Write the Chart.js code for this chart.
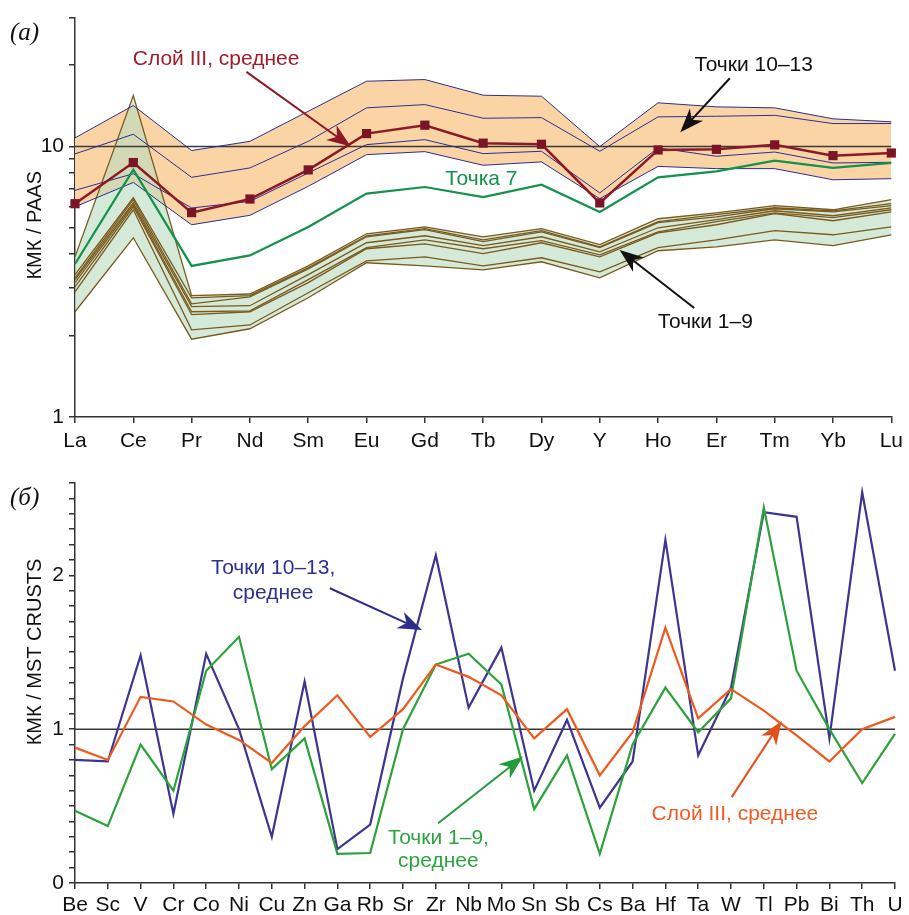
<!DOCTYPE html>
<html>
<head>
<meta charset="utf-8">
<title>КМК</title>
<script src="https://cdn.jsdelivr.net/npm/chart.js@4.4.1/dist/chart.umd.min.js"></script>
<style>
  body { margin: 0; background: #fff; }
  canvas { display: block; }
</style>
</head>
<body>
<canvas id="reeChart" width="909" height="458"></canvas>
<canvas id="traceChart" width="909" height="457"></canvas>
<script>
// ---------- Panel (а): REE / PAAS ----------
const reeElements = ['La', 'Ce', 'Pr', 'Nd', 'Sm', 'Eu', 'Gd', 'Tb', 'Dy', 'Y', 'Ho', 'Er', 'Tm', 'Yb', 'Lu'];
const layer3Mean = [6.15, 8.73, 5.70, 6.40, 8.20, 11.17, 12.0, 10.3, 10.2, 6.19, 9.72, 9.77, 10.15, 9.26, 9.47];
const point7 = [3.68, 8.22, 3.62, 3.96, 5.04, 6.70, 7.09, 6.51, 7.23, 5.73, 7.70, 8.10, 8.87, 8.34, 8.70];
// points 10-13 (orange band)
const pt10 = [10.77, 14.19, 9.67, 10.46, 13.51, 17.45, 17.7, 15.49, 15.36, 10.0, 14.52, 14.03, 13.91, 12.67, 12.35];
const pt11 = [9.40, 11.11, 7.70, 8.34, 10.46, 13.91, 14.3, 12.73, 12.8, 9.61, 12.88, 12.95, 13.05, 12.17, 12.17];
const pt12 = [6.89, 7.94, 5.93, 6.27, 7.99, 10.17, 10.61, 9.42, 9.61, 6.74, 9.89, 9.21, 9.55, 8.70, 8.75];
const pt13 = [5.99, 7.37, 5.14, 5.57, 7.13, 9.34, 9.58, 8.53, 8.78, 6.42, 8.45, 8.29, 8.29, 7.54, 7.61];
// points 1-9 without 7 (green band)
const pt1 = [3.91, 15.45, 2.81, 2.85, 3.62, 4.76, 5.05, 4.64, 4.97, 4.34, 5.41, 5.69, 6.05, 5.84, 6.37];
const pt2 = [3.36, 6.47, 2.76, 2.81, 3.56, 4.68, 4.97, 4.52, 4.89, 4.26, 5.28, 5.60, 5.94, 5.79, 6.15];
const pt3 = [3.27, 6.37, 2.62, 2.78, 3.53, 4.64, 4.93, 4.45, 4.84, 4.23, 5.23, 5.50, 5.89, 5.74, 6.05];
const pt4 = [3.22, 6.20, 2.56, 2.58, 3.36, 4.41, 4.68, 4.30, 4.64, 4.08, 5.01, 5.37, 5.79, 5.55, 5.94];
const pt5 = [3.14, 6.10, 2.45, 2.47, 3.22, 4.23, 4.52, 4.19, 4.49, 3.98, 4.84, 5.28, 5.69, 5.46, 5.84];
const pt6 = [3.03, 5.99, 2.39, 2.45, 3.14, 4.19, 4.37, 4.02, 4.41, 3.91, 4.80, 5.14, 5.65, 5.32, 5.74];
const pt8 = [2.90, 5.84, 2.10, 2.19, 2.88, 3.78, 3.91, 3.62, 3.88, 3.44, 4.23, 4.52, 4.89, 4.72, 5.05];
const pt9 = [2.45, 4.60, 1.94, 2.12, 2.76, 3.72, 3.62, 3.50, 3.75, 3.27, 4.12, 4.26, 4.52, 4.30, 4.72];
const reeTickValues = [1, 2, 3, 4, 5, 6, 7, 8, 9, 10, 20, 30];
const reeTickLabels = [1, 10];

// ---------- Panel (б): trace elements / MST crusts ----------
const traceElements = ['Be', 'Sc', 'V', 'Cr', 'Co', 'Ni', 'Cu', 'Zn', 'Ga', 'Rb', 'Sr', 'Zr', 'Nb', 'Mo', 'Sn', 'Sb', 'Cs', 'Ba', 'Hf', 'Ta', 'W', 'Tl', 'Pb', 'Bi', 'Th', 'U'];
const trace10to13 = [0.80, 0.79, 1.48, 0.45, 1.49, 1.00, 0.30, 1.31, 0.22, 0.38, 1.33, 2.13, 1.14, 1.53, 0.60, 1.06, 0.49, 0.79, 2.23, 0.83, 1.27, 2.41, 2.38, 0.94, 2.54, 1.38];
const trace1to9 = [0.47, 0.37, 0.90, 0.60, 1.38, 1.60, 0.74, 0.94, 0.19, 0.195, 1.00, 1.42, 1.49, 1.29, 0.48, 0.83, 0.19, 0.90, 1.27, 0.98, 1.20, 2.44, 1.38, 1.00, 0.65, 0.97];
const traceLayer3 = [0.88, 0.80, 1.21, 1.18, 1.03, 0.93, 0.78, 1.02, 1.22, 0.95, 1.13, 1.42, 1.34, 1.22, 0.94, 1.13, 0.70, 0.98, 1.66, 1.07, 1.26, 1.12, 0.96, 0.79, 1.00, 1.08];
const traceTickLabels = [0, 1, 2];

const FONT = '"Liberation Sans", Arial, sans-serif';
Chart.defaults.font.family = FONT;
Chart.defaults.color = '#111';

// draws an arrow with a notched, filled head
function drawArrow(ctx, x1, y1, x2, y2, color) {
    const ang = Math.atan2(y2 - y1, x2 - x1);
    const len = 24, half = 9;
    const cos = Math.cos(ang), sin = Math.sin(ang);
    const bx = x2 - len * cos, by = y2 - len * sin;
    ctx.save();
    ctx.strokeStyle = color;
    ctx.fillStyle = color;
    ctx.lineWidth = 2;
    ctx.beginPath();
    ctx.moveTo(x1, y1);
    ctx.lineTo(x2 - 14 * cos, y2 - 14 * sin);
    ctx.stroke();
    ctx.beginPath();
    ctx.moveTo(x2, y2);
    ctx.lineTo(bx - half * sin, by + half * cos);
    ctx.lineTo(x2 - 17 * cos, y2 - 17 * sin);
    ctx.lineTo(bx + half * sin, by - half * cos);
    ctx.closePath();
    ctx.fill();
    ctx.restore();
}

// notes plugin: panel letter, rotated y title, text labels and arrows (in data units)
function notesPlugin(cfg) {
    return {
        id: 'notes',
        afterDraw(chart) {
            const ctx = chart.ctx;
            const xs = chart.scales.x, ys = chart.scales.y;
            const area = chart.chartArea;
            ctx.save();
            ctx.fillStyle = '#111';
            ctx.font = 'italic 25px "Liberation Serif", serif';
            ctx.textAlign = 'left';
            ctx.textBaseline = 'alphabetic';
            ctx.fillText(cfg.panel, 10, area.top + 22);

            ctx.save();
            ctx.translate(35, area.top + area.height * cfg.titleFrac);
            ctx.rotate(-Math.PI / 2);
            ctx.textAlign = 'center';
            ctx.textBaseline = 'middle';
            ctx.font = '20px ' + FONT;
            ctx.fillText(cfg.title, 0, 0);
            ctx.restore();

            ctx.font = '21px ' + FONT;
            ctx.textAlign = 'center';
            ctx.textBaseline = 'alphabetic';
            cfg.texts.forEach(t => {
                ctx.fillStyle = t.color;
                ctx.fillText(t.text, xs.getPixelForValue(t.x), ys.getPixelForValue(t.y));
            });
            cfg.arrows.forEach(a => {
                drawArrow(ctx,
                    xs.getPixelForValue(a.from[0]), ys.getPixelForValue(a.from[1]),
                    xs.getPixelForValue(a.to[0]), ys.getPixelForValue(a.to[1]), a.color);
            });
            ctx.restore();
        }
    };
}

function lineSet(data, color, width, order) {
    return { data, borderColor: color, borderWidth: width, pointRadius: 0, tension: 0, fill: false, order };
}

document.addEventListener('DOMContentLoaded', () => {

    // --- Panel (а) ---
    const allPts19 = [pt1, pt2, pt3, pt4, pt5, pt6, pt8, pt9];
    const allPts1013 = [pt10, pt11, pt12, pt13];
    const green = (fn) => reeElements.map((_, i) => fn(...allPts19.map(s => s[i])));
    const orange = (fn) => reeElements.map((_, i) => fn(...allPts1013.map(s => s[i])));
    const BROWN = '#7a5a1c', NAVY = '#2b2f8f';

    const reeCtx = document.getElementById('reeChart').getContext('2d');
    new Chart(reeCtx, {
        type: 'line',
        data: {
            labels: reeElements,
            datasets: [
                { data: layer3Mean, borderColor: '#8c1a26', borderWidth: 2.5, tension: 0,
                  pointStyle: 'rect', pointRadius: 6.5, pointBackgroundColor: '#7b1424',
                  pointBorderColor: '#7b1424', pointBorderWidth: 0, clip: false, order: 0 },
                lineSet(point7, '#12924a', 2.2, 1),
                ...allPts1013.map(s => lineSet(s, NAVY, 1, 2)),
                ...allPts19.map(s => lineSet(s, BROWN, 1.3, 3)),
                lineSet(reeElements.map(() => 10), '#3a3a3a', 1.5, 4),
                { data: green(Math.max), borderWidth: 0, pointRadius: 0, tension: 0, fill: false, order: 5 },
                { data: green(Math.min), borderWidth: 0, pointRadius: 0, tension: 0, order: 5,
                  fill: '-1', backgroundColor: 'rgba(185, 218, 192, 0.6)' },
                { data: orange(Math.max), borderWidth: 0, pointRadius: 0, tension: 0, fill: false, order: 6 },
                { data: orange(Math.min), borderWidth: 0, pointRadius: 0, tension: 0, order: 6,
                  fill: '-1', backgroundColor: '#fad4a5' }
            ]
        },
        options: {
            responsive: false,
            animation: false,
            layout: { padding: { top: 17, right: 14, left: 0, bottom: 0 } },
            plugins: { legend: { display: false }, tooltip: { enabled: false } },
            scales: {
                x: {
                    offset: false,
                    grid: { drawOnChartArea: false, tickLength: 6, color: '#333', lineWidth: 1.5 },
                    border: { color: '#333', width: 1.5 },
                    ticks: { font: { size: 21 }, color: '#111', maxRotation: 0, autoSkip: false, padding: 6 },
                    afterFit: s => { s.height = 41; }
                },
                y: {
                    type: 'logarithmic',
                    min: 1,
                    max: 30,
                    grid: { drawOnChartArea: false, tickLength: 6, color: '#333', lineWidth: 1.5 },
                    border: { color: '#333', width: 1.5 },
                    afterBuildTicks: s => { s.ticks = reeTickValues.map(v => ({ value: v })); },
                    ticks: {
                        font: { size: 21 }, color: '#111', autoSkip: false, padding: 5,
                        callback: v => reeTickLabels.includes(v) ? String(v) : ''
                    },
                    afterFit: s => { s.width = 75; }
                }
            }
        },
        plugins: [notesPlugin({
            panel: '(а)',
            title: 'КМК / PAAS',
            titleFrac: 0.52,
            texts: [
                { text: 'Слой III, среднее', x: 2.42, y: 20.1, color: '#a11d2b' },
                { text: 'Точки 10–13', x: 11.64, y: 18.96, color: '#111' },
                { text: 'Точка 7', x: 6.97, y: 7.23, color: '#14924a' },
                { text: 'Точки 1–9', x: 10.81, y: 2.14, color: '#111' }
            ],
            arrows: [
                { from: [2.94, 18.9], to: [4.73, 10.0], color: '#8c1a26' },
                { from: [11.23, 17.9], to: [10.38, 11.3], color: '#111' },
                { from: [10.62, 2.53], to: [9.34, 4.15], color: '#111' }
            ]
        })]
    });

    // --- Panel (б) ---
    const traceCtx = document.getElementById('traceChart').getContext('2d');
    new Chart(traceCtx, {
        type: 'line',
        data: {
            labels: traceElements,
            datasets: [
                lineSet(traceLayer3, '#ee5a1e', 2.2, 0),
                lineSet(trace1to9, '#2ba23a', 2.2, 1),
                lineSet(trace10to13, '#3d3590', 2.2, 2),
                lineSet(traceElements.map(() => 1), '#3a3a3a', 1.5, 3)
            ]
        },
        options: {
            responsive: false,
            animation: false,
            layout: { padding: { top: 25, right: 14, left: 0, bottom: 0 } },
            plugins: { legend: { display: false }, tooltip: { enabled: false } },
            scales: {
                x: {
                    offset: false,
                    grid: { drawOnChartArea: false, tickLength: 6, color: '#333', lineWidth: 1.5 },
                    border: { color: '#333', width: 1.5 },
                    ticks: { font: { size: 21 }, color: '#111', maxRotation: 0, autoSkip: false, padding: 4 },
                    afterFit: s => { s.height = 32; }
                },
                y: {
                    min: 0,
                    max: 2.6,
                    grid: { drawOnChartArea: false, tickLength: 6, color: '#333', lineWidth: 1.5 },
                    border: { color: '#333', width: 1.5 },
                    ticks: {
                        stepSize: 0.1, font: { size: 21 }, color: '#111', autoSkip: false, padding: 5,
                        callback: v => {
                            const r = Math.round(v);
                            return Math.abs(v - r) < 1e-6 && traceTickLabels.includes(r) ? String(r) : '';
                        }
                    },
                    afterFit: s => { s.width = 75; }
                }
            }
        },
        plugins: [notesPlugin({
            panel: '(б)',
            title: 'КМК / MST CRUSTS',
            titleFrac: 0.4225,
            texts: [
                { text: 'Точки 10–13,', x: 6.04, y: 2.006, color: '#2e3192' },
                { text: 'среднее', x: 6.04, y: 1.845, color: '#2e3192' },
                { text: 'Точки 1–9,', x: 11.08, y: 0.252, color: '#2ca540' },
                { text: 'среднее', x: 11.08, y: 0.104, color: '#2ca540' },
                { text: 'Слой III, среднее', x: 20.12, y: 0.408, color: '#ef5b25' }
            ],
            arrows: [
                { from: [7.77, 1.916], to: [10.58, 1.644], color: '#2e2d8a' },
                { from: [11.07, 0.388], to: [13.66, 0.822], color: '#26993a' },
                { from: [20.02, 0.558], to: [21.55, 1.055], color: '#e4501c' }
            ]
        })]
    });
});
</script>
</body>
</html>
